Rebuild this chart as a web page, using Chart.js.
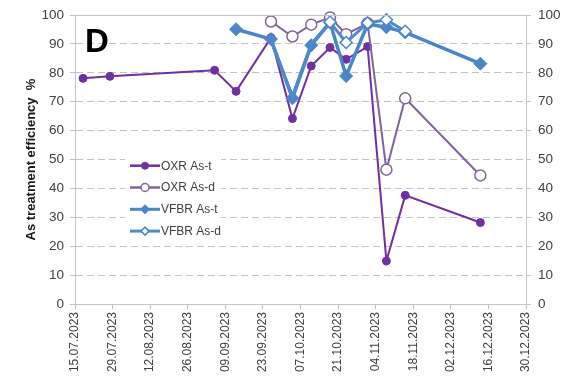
<!DOCTYPE html>
<html>
<head>
<meta charset="utf-8">
<script src="https://cdn.jsdelivr.net/npm/chart.js@4.4.1/dist/chart.umd.min.js"></script>
<style>
  html, body { margin: 0; padding: 0; background: #fff; }
  #wrap { width: 563px; height: 380px; }
</style>
</head>
<body>
<div id="wrap"><canvas id="c" width="563" height="380"></canvas></div>
<script>
// Sampling dates and treatment efficiencies (%)
const startDate = '15.07.2023';
const endDate = '30.12.2023';

const oxrTDates = ['18.07.2023','28.07.2023','05.09.2023','13.09.2023','26.09.2023','04.10.2023','11.10.2023','18.10.2023','24.10.2023','01.11.2023','08.11.2023','15.11.2023','13.12.2023'];
const oxrT      = [78.1, 78.8, 80.9, 73.6, 92.2, 64.2, 82.4, 88.8, 84.7, 89.1, 14.9, 37.6, 28.2];

const oxrDDates = ['26.09.2023','04.10.2023','11.10.2023','18.10.2023','24.10.2023','01.11.2023','08.11.2023','15.11.2023','13.12.2023'];
const oxrD      = [97.8, 92.6, 96.7, 99.2, 93.4, 97.2, 46.5, 71.2, 44.5];

const vfbrTDates = ['13.09.2023','26.09.2023','04.10.2023','11.10.2023','18.10.2023','24.10.2023','01.11.2023','08.11.2023','15.11.2023','13.12.2023'];
const vfbrT      = [95.1, 91.7, 71.2, 89.6, 97.4, 78.9, 96.9, 95.8, 94.0, 83.2];

const vfbrDDates = ['26.09.2023','04.10.2023','11.10.2023','18.10.2023','24.10.2023','01.11.2023','08.11.2023','15.11.2023'];
const vfbrD      = [91.0, 72.0, 90.0, 97.6, 90.5, 97.3, 98.4, 94.4];

const yTicks = [0, 10, 20, 30, 40, 50, 60, 70, 80, 90, 100];

// --- date helpers: x axis runs in days since the start date ---
function toUTC(s) {
  const [d, m, y] = s.split('.').map(Number);
  return Date.UTC(y, m - 1, d);
}
const DAY = 86400000;
const t0 = toUTC(startDate);
function dayOf(s) { return (toUTC(s) - t0) / DAY; }
function fmtDay(n) {
  const d = new Date(t0 + n * DAY);
  const p = v => String(v).padStart(2, '0');
  return p(d.getUTCDate()) + '.' + p(d.getUTCMonth() + 1) + '.' + d.getUTCFullYear();
}
function points(dates, vals) {
  return dates.map((s, i) => ({ x: dayOf(s), y: vals[i] }));
}

const FONT = "'Liberation Sans', Arial, sans-serif";
const TXT = '#404040';
const GRID = '#C4C4C4';

Chart.defaults.font.family = FONT;
Chart.defaults.color = TXT;

// Legend box inside the plot, and the panel letter
const overlay = {
  id: 'overlay',
  afterDatasetsDraw(chart) {
    const ctx = chart.ctx;
    ctx.save();
    // panel letter
    ctx.fillStyle = '#000';
    ctx.font = 'bold 33px ' + FONT;
    ctx.textBaseline = 'alphabetic';
    ctx.textAlign = 'left';
    ctx.fillText('D', 85, 52);

    // legend
    const bx = 125, by = 153, bw = 96, bh = 88;
    ctx.fillStyle = '#fff';
    ctx.fillRect(bx, by, bw, bh);
    ctx.font = '12px ' + FONT;
    ctx.textBaseline = 'middle';
    chart.data.datasets.forEach((ds, i) => {
      const y = 165.7 + i * 21.8;
      ctx.strokeStyle = ds.borderColor;
      ctx.lineWidth = ds.legendLine;
      ctx.beginPath();
      ctx.moveTo(130, y);
      ctx.lineTo(160, y);
      ctx.stroke();
      ctx.fillStyle = ds.backgroundColor;
      ctx.strokeStyle = ds.pointBorderColor || ds.borderColor;
      ctx.lineWidth = ds.pointBorderWidth || 1;
      Chart.helpers.drawPoint(ctx, {
        pointStyle: ds.pointStyle, radius: ds.legendRadius,
        borderWidth: ds.pointBorderWidth || 1, rotation: 0
      }, 145, y);
      ctx.fillStyle = TXT;
      ctx.fillText(ds.label, 161, y + 0.5);
    });

    // solid top frame line at 100
    const a = chart.chartArea;
    ctx.strokeStyle = GRID;
    ctx.lineWidth = 1;
    ctx.beginPath();
    ctx.moveTo(a.left, Math.round(a.top) + 0.5);
    ctx.lineTo(a.right, Math.round(a.top) + 0.5);
    ctx.stroke();
    ctx.restore();
  }
};

const xMin = 0;
const xMax = dayOf(endDate);

new Chart(document.getElementById('c'), {
  type: 'line',
  data: {
    datasets: [
      {
        label: 'OXR As-t', data: points(oxrTDates, oxrT),
        borderColor: '#7030A0', backgroundColor: '#7030A0', pointBorderColor: '#7030A0',
        borderWidth: 2, pointRadius: 4, pointBorderWidth: 1, pointStyle: 'circle',
        legendRadius: 3.5, legendLine: 2.5, order: 4
      },
      {
        label: 'OXR As-d', data: points(oxrDDates, oxrD),
        borderColor: '#8064A2', backgroundColor: '#ffffff', pointBorderColor: '#8064A2',
        borderWidth: 2, pointRadius: 5.5, pointBorderWidth: 1.5, pointStyle: 'circle',
        legendRadius: 4, legendLine: 2.5, order: 3
      },
      {
        label: 'VFBR As-t', data: points(vfbrTDates, vfbrT),
        borderColor: '#4A86C8', backgroundColor: '#4A86C8', pointBorderColor: '#4A86C8',
        borderWidth: 3.5, pointRadius: 6.5, pointBorderWidth: 1, pointStyle: 'rectRot',
        legendRadius: 4.5, legendLine: 3, order: 2
      },
      {
        label: 'VFBR As-d', data: points(vfbrDDates, vfbrD),
        borderColor: '#4F8BCB', backgroundColor: '#ffffff', pointBorderColor: '#4A86C8',
        borderWidth: 3, pointRadius: [0, 0, 0, 6, 6, 6, 6, 6], pointBorderWidth: 1.5, pointStyle: 'rectRot',
        legendRadius: 4, legendLine: 3, order: 1
      }
    ]
  },
  options: {
    responsive: false,
    animation: false,
    events: [],
    layout: { padding: { top: 15, left: 0, right: 0, bottom: 0 } },
    elements: { line: { tension: 0 } },
    datasets: { line: { clip: false } },
    plugins: { legend: { display: false }, tooltip: { enabled: false } },
    scales: {
      x: {
        type: 'linear', min: xMin, max: xMax,
        afterBuildTicks(scale) {
          const t = [];
          for (let d = xMin; d <= xMax; d += 14) t.push({ value: d });
          scale.ticks = t;
        },
        afterFit(scale) { scale.height = 76; },
        ticks: {
          autoSkip: false, maxRotation: 90, minRotation: 90, padding: 3,
          font: { size: 12 }, color: TXT,
          callback: v => fmtDay(v)
        },
        grid: { drawOnChartArea: false, tickLength: 5, color: GRID, tickColor: GRID },
        border: { color: GRID, width: 1 }
      },
      y: {
        position: 'left', min: 0, max: 100,
        afterBuildTicks(scale) { scale.ticks = yTicks.map(v => ({ value: v })); },
        afterFit(scale) { scale.width = 75; },
        ticks: { padding: 6, font: { size: 13.5 }, color: TXT },
        grid: { color: GRID, tickColor: GRID, tickLength: 5, lineWidth: 1 },
        border: { color: GRID, width: 1, dash: [7, 4] },
        title: {
          display: true, text: 'As treatment efficiency  %',
          color: '#1a1a1a', font: { size: 13, weight: 'bold' },
          padding: { top: 24, bottom: 0 }
        }
      },
      y2: {
        position: 'right', min: 0, max: 100,
        afterBuildTicks(scale) { scale.ticks = yTicks.map(v => ({ value: v })); },
        afterFit(scale) { scale.width = 37; },
        ticks: { padding: 7, font: { size: 13.5 }, color: TXT },
        grid: { drawOnChartArea: false, color: GRID, tickColor: GRID, tickLength: 5 },
        border: { color: GRID, width: 1 }
      }
    }
  },
  plugins: [overlay]
});
</script>
</body>
</html>
